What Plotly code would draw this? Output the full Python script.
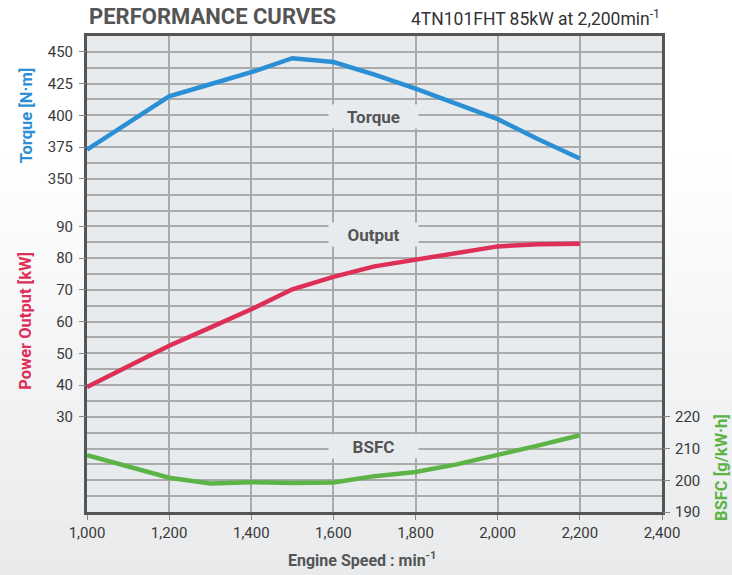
import base64
import struct
import zlib

import plotly.graph_objects as go

# ---------------- data ----------------
rpm = [1000, 1100, 1200, 1300, 1400, 1500, 1600, 1700, 1800, 1900, 2000, 2100, 2200]
torque = [373, 394, 415, 424.5, 434, 445, 442, 432, 421, 409, 397, 381, 366]
power = [39.4, 45.8, 52.4, 58.1, 63.9, 70.2, 74.1, 77.4, 79.5, 81.7, 83.7, 84.4, 84.5]
bsfc = [207.9, 204.3, 200.8, 199.0, 199.4, 199.1, 199.3, 201.3, 202.6, 205.0, 207.9, 211.0, 214.2]

x_ticks = [1000, 1200, 1400, 1600, 1800, 2000, 2200, 2400]
torque_ticks = [350, 375, 400, 425, 450]
power_ticks = [30, 40, 50, 60, 70, 80, 90]
bsfc_ticks = [190, 200, 210, 220]

# ---------------- styling ----------------
C_TORQUE = "#2a8fd4"
C_POWER = "#dd2f57"
C_BSFC = "#5db446"
GRID = "#aaaaaa"
FRAME = "#555555"
TXT = "#3a3a3a"
LABEL = "#555555"
FONT = "Roboto, 'DejaVu Sans', sans-serif"

W, H = 732, 575
ML, MR, MT, MB = 87, 70, 36, 63
PW, PH = W - ML - MR, H - MT - MB


def gradient_uri():
    rows = b""
    for i in range(H):
        t = i / (H - 1)
        t = max(0.0, (t - 0.25) / 0.75)
        top = (255, 255, 255)
        bot = (232, 234, 236)
        px = bytes(int(round(a + (b - a) * t)) for a, b in zip(top, bot))
        rows += b"\x00" + px

    def chunk(tag, data):
        return (struct.pack(">I", len(data)) + tag + data
                + struct.pack(">I", zlib.crc32(tag + data) & 0xFFFFFFFF))

    png = (b"\x89PNG\r\n\x1a\n"
           + chunk(b"IHDR", struct.pack(">IIBBBBB", 1, H, 8, 2, 0, 0, 0))
           + chunk(b"IDAT", zlib.compress(rows))
           + chunk(b"IEND", b""))
    return "data:image/png;base64," + base64.b64encode(png).decode()


fig = go.Figure()

fig.add_trace(go.Scatter(x=rpm, y=torque, yaxis="y2", mode="lines",
                         line=dict(color=C_TORQUE, width=4.5), name="Torque"))
fig.add_trace(go.Scatter(x=rpm, y=power, yaxis="y3", mode="lines",
                         line=dict(color=C_POWER, width=4.5), name="Output"))
fig.add_trace(go.Scatter(x=rpm, y=bsfc, yaxis="y4", mode="lines",
                         line=dict(color=C_BSFC, width=4.5), name="BSFC"))
# invisible trace to activate grid axis
fig.add_trace(go.Scatter(x=[1000], y=[0], yaxis="y", mode="markers",
                         marker=dict(opacity=0), hoverinfo="skip", showlegend=False))

tickfont = dict(family=FONT, size=15, color=TXT)

fig.update_layout(
    width=W, height=H,
    margin=dict(l=ML, r=MR, t=MT, b=MB, autoexpand=False),
    paper_bgcolor="white",
    plot_bgcolor="#e8ebee",
    showlegend=False,
    font=dict(family=FONT, color=TXT),
    xaxis=dict(
        range=[1000, 2400], tickvals=x_ticks, tickformat=",d", automargin=False,
        showgrid=True, gridcolor=GRID, gridwidth=1.6, zeroline=False,
        ticks="outside", ticklen=5, tickcolor="#888888", tickwidth=1,
        showline=True, linecolor=FRAME, linewidth=2.5, mirror=True,
        tickfont=tickfont, ticklabelstandoff=0,
    ),
    yaxis=dict(
        range=[0, 30], dtick=1, tick0=0, automargin=False,
        showgrid=True, gridcolor=GRID, gridwidth=1.6, zeroline=False,
        showticklabels=False, ticks="",
        showline=True, linecolor=FRAME, linewidth=2.5, mirror=True,
    ),
    yaxis2=dict(
        overlaying="y", side="left", anchor="x", automargin=False,
        range=[87.5, 462.5], tickvals=torque_ticks,
        showgrid=False, zeroline=False, showline=False,
        ticks="outside", ticklen=7, tickcolor="#888888", tickwidth=1,
        tickfont=tickfont, ticklabelstandoff=3,
    ),
    yaxis3=dict(
        overlaying="y", side="left", anchor="x", automargin=False,
        range=[0, 150], tickvals=power_ticks,
        showgrid=False, zeroline=False, showline=False,
        ticks="outside", ticklen=7, tickcolor="#888888", tickwidth=1,
        tickfont=tickfont, ticklabelstandoff=3,
    ),
    yaxis4=dict(
        overlaying="y", side="right", anchor="x", automargin=False,
        range=[190, 340], tickvals=bsfc_ticks,
        showgrid=False, zeroline=False, showline=False,
        ticks="outside", ticklen=7, tickcolor="#888888", tickwidth=1,
        tickfont=tickfont, ticklabelstandoff=2,
    ),
)

fig.add_layout_image(dict(
    source=gradient_uri(), xref="paper", yref="paper",
    x=-ML / PW, y=(H - MB) / PH, sizex=W / PW, sizey=H / PH,
    xanchor="left", yanchor="top", sizing="stretch", layer="below",
))
fig.add_shape(type="rect", xref="paper", yref="paper", x0=0, x1=1, y0=0, y1=1,
              fillcolor="#e8ebee", line=dict(width=0), layer="below")

# in-plot labels
for txt, yv in [("Torque", 24.9), ("Output", 17.5), ("BSFC", 4.15)]:
    fig.add_annotation(x=1697, y=yv, xref="x", yref="y", text=f"<b>{txt}</b>",
                       xanchor="center", yanchor="middle",
                       showarrow=False, font=dict(family=FONT, size=17, color=LABEL),
                       bgcolor="#e8ebee", width=85, height=19, borderpad=2)

# axis titles
fig.add_annotation(x=(26 - ML) / PW, y=25.0, xref="paper", yref="y",
                   xanchor="center", yanchor="middle",
                   text="<b>Torque [N·m]</b>", textangle=-90, showarrow=False,
                   font=dict(family=FONT, size=16.5, color=C_TORQUE))
fig.add_annotation(x=(26 - ML) / PW, y=12.05, xref="paper", yref="y",
                   xanchor="center", yanchor="middle",
                   text="<b>Power Output [kW]</b>", textangle=-90, showarrow=False,
                   font=dict(family=FONT, size=16.5, color=C_POWER))
fig.add_annotation(x=(722 - ML) / PW, y=2.78, xref="paper", yref="y",
                   xanchor="center", yanchor="middle",
                   text="<b>BSFC [g/kW·h]</b>", textangle=-90, showarrow=False,
                   font=dict(family=FONT, size=16.5, color=C_BSFC))
fig.add_annotation(x=(362 - ML) / PW, y=(H - MB - 559) / PH, xref="paper", yref="paper",
                   xanchor="center", yanchor="middle",
                   text="<b>Engine Speed : min<sup>-1</sup></b>", showarrow=False,
                   font=dict(family=FONT, size=16, color=LABEL))

# header
fig.add_annotation(x=0, y=(H - MB - 17) / PH, xref="paper", yref="paper",
                   xanchor="left", yanchor="middle",
                   text="<b>PERFORMANCE CURVES</b>", showarrow=False,
                   font=dict(family=FONT, size=22, color=LABEL))
fig.add_annotation(x=1.0, y=(H - MB - 18) / PH, xref="paper", yref="paper",
                   xanchor="right", yanchor="middle",
                   text="4TN101FHT 85kW at 2,200min<sup>-1</sup>", showarrow=False,
                   font=dict(family=FONT, size=17.5, color="#333333"))

fig.write_html("out.html",
               config={"displayModeBar": False},
               post_script="document.body.style.margin='0';document.body.style.overflow='hidden';")
